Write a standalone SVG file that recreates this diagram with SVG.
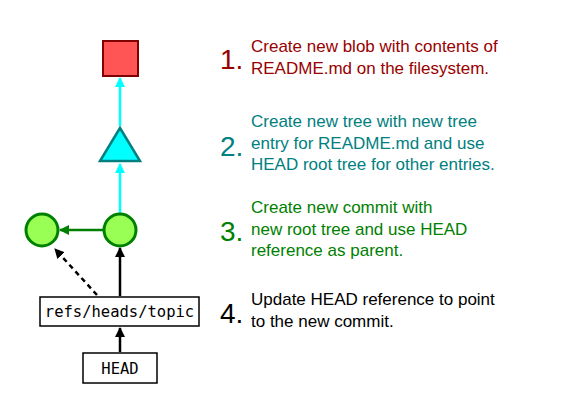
<svg xmlns="http://www.w3.org/2000/svg" width="562" height="417" viewBox="0 0 562 417">
<style>
.t{font-family:"Liberation Sans",Arial,sans-serif;font-size:17px}
.n{font-family:"Liberation Sans",Arial,sans-serif;font-size:28px}
.m{font-family:"DejaVu Sans Mono",monospace;font-size:15.5px;fill:#000}
.c{fill:#99ff55;stroke:#008000;stroke-width:3}
.r{fill:#fff;stroke:#000;stroke-width:1.5}
</style>
<defs>
<marker id="ac" viewBox="0 0 10 10" refX="9" refY="5" markerWidth="4" markerHeight="4" orient="auto"><path d="M0,0L10,5L0,10z" fill="#00ffff"/></marker>
<marker id="ag" viewBox="0 0 10 10" refX="9" refY="5" markerWidth="4" markerHeight="4" orient="auto"><path d="M0,0L10,5L0,10z" fill="#008000"/></marker>
<marker id="ak" viewBox="0 0 10 10" refX="9" refY="5" markerWidth="4" markerHeight="4" orient="auto"><path d="M0,0L10,5L0,10z" fill="#000"/></marker>
</defs>
<rect width="562" height="417" fill="#fff"/>
<g id="connectors" fill="none">
<line x1="120" y1="126" x2="120" y2="78" stroke="#00ffff" stroke-width="2.5" marker-end="url(#ac)"/>
<line x1="120" y1="213" x2="120" y2="164" stroke="#00ffff" stroke-width="2.5" marker-end="url(#ac)"/>
<line x1="104" y1="230" x2="60" y2="230" stroke="#008000" stroke-width="2.5" marker-end="url(#ag)"/>
<line x1="120" y1="296" x2="120" y2="248" stroke="#000" stroke-width="2.5" marker-end="url(#ak)"/>
<line x1="97" y1="295" x2="55" y2="249" stroke="#000" stroke-width="2.5" stroke-dasharray="5,4" marker-end="url(#ak)"/>
<line x1="120" y1="352" x2="120" y2="328" stroke="#000" stroke-width="2.5" marker-end="url(#ak)"/>
</g>
<g id="blob"><rect x="103" y="41" width="35" height="35" fill="#ff5555" stroke="#800000" stroke-width="2"/></g>
<g id="tree"><polygon points="120,128 100,161 140,161" fill="#00ffff" stroke="#008080" stroke-width="2.5"/></g>
<g id="commit-new"><circle cx="120" cy="230" r="16" class="c"/></g>
<g id="commit-parent"><circle cx="42" cy="230" r="16" class="c"/></g>
<g id="ref-topic"><rect x="40" y="297" width="159" height="29" class="r"/><text x="119.5" y="316.5" class="m" text-anchor="middle">refs/heads/topic</text></g>
<g id="head"><rect x="83" y="353" width="74" height="30" class="r"/><text x="120" y="373.5" class="m" text-anchor="middle">HEAD</text></g>
<g id="step1" fill="#990000">
<text x="220" y="69" class="n">1.</text>
<text x="251" y="52" class="t">Create new blob with contents of</text>
<text x="251" y="73.5" class="t">README.md on the filesystem.</text>
</g>
<g id="step2" fill="#008080">
<text x="220" y="156" class="n">2.</text>
<text x="251" y="127" class="t">Create new tree with new tree</text>
<text x="251" y="148.5" class="t">entry for README.md and use</text>
<text x="251" y="170" class="t">HEAD root tree for other entries.</text>
</g>
<g id="step3" fill="#008000">
<text x="220" y="241" class="n">3.</text>
<text x="251" y="213" class="t">Create new commit with</text>
<text x="251" y="234.5" class="t">new root tree and use HEAD</text>
<text x="251" y="256" class="t">reference as parent.</text>
</g>
<g id="step4" fill="#000">
<text x="220" y="323" class="n">4.</text>
<text x="251" y="305" class="t">Update HEAD reference to point</text>
<text x="251" y="326.5" class="t">to the new commit.</text>
</g>
</svg>
